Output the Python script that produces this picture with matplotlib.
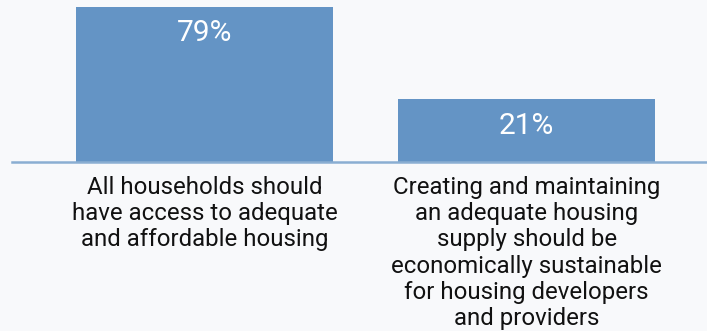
import matplotlib.pyplot as plt

# Share of respondents choosing each housing policy statement
categories = [
    "All households should\nhave access to adequate\nand affordable housing",
    "Creating and maintaining\nan adequate housing\nsupply should be\neconomically sustainable\nfor housing developers\nand providers",
]
values = [79, 21]
value_labels = ["79%", "21%"]

BASE = -18.7  # axis floor the bars grow from
BG = "#f8f9fb"
BAR = "#6494c5"

plt.rcParams["font.family"] = ["Roboto", "DejaVu Sans"]

W, H = 707, 331
fig = plt.figure(figsize=(W / 100, H / 100), dpi=100, facecolor=BG)
ax = fig.add_axes([12 / W, (H - 162) / H, 1 - 12 / W, 162 / H])
ax.set_facecolor(BG)

x = list(range(len(values)))
heights = [v - BASE for v in values]
ax.bar(x, heights, bottom=BASE, width=0.798, color=BAR, zorder=2)

ax.set_xlim(-0.598, 1.56)
ax.set_ylim(BASE, 83.4)

for xi, v, lab in zip(x, values, value_labels):
    ax.annotate(lab, (xi, v), xytext=(0, -9), textcoords="offset points",
                ha="center", va="top", color="white", fontsize=21.5)

ax.set_xticks(x)
ax.set_xticklabels(categories, fontsize=17.3, color="#111111", linespacing=1.18)
ax.tick_params(axis="x", length=0, pad=10)
ax.set_yticks([])

for side in ["top", "left", "right"]:
    ax.spines[side].set_visible(False)
ax.spines["bottom"].set_color("#8aaed2")
ax.spines["bottom"].set_linewidth(1.8)

fig.savefig("out.png", dpi=100, facecolor=BG)
